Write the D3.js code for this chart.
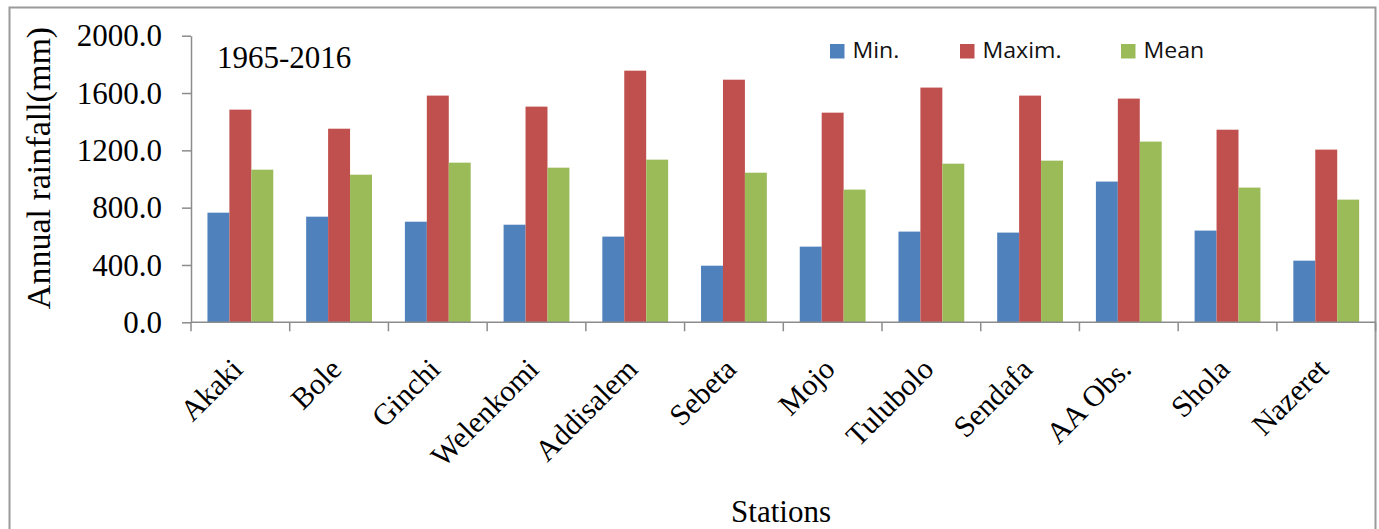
<!DOCTYPE html>
<html>
<head>
<meta charset="utf-8">
<script src="https://cdn.jsdelivr.net/npm/d3@7"></script>
<style>
  html, body { margin: 0; padding: 0; background: #ffffff; }
  svg { display: block; }
</style>
</head>
<body>
<svg id="chart" width="1379" height="529"></svg>
<script>
// Annual rainfall per station, 1965-2016
const stations = ["Akaki", "Bole", "Ginchi", "Welenkomi", "Addisalem", "Sebeta",
                  "Mojo", "Tulubolo", "Sendafa", "AA Obs.", "Shola", "Nazeret"];
const seriesNames = ["Min.", "Maxim.", "Mean"];
const minValues  = [765, 737, 702, 681, 598, 395, 528, 633, 626, 982, 640, 430];
const maxValues  = [1484, 1351, 1582, 1505, 1756, 1693, 1463, 1638, 1582, 1561, 1344, 1205];
const meanValues = [1065, 1030, 1114, 1079, 1135, 1044, 926, 1107, 1128, 1261, 940, 856];
const yTicks = [0, 400, 800, 1200, 1600, 2000];
const colors = ["#4F81BD", "#C0504D", "#9BBB59"];

const seriesValues = [minValues, maxValues, meanValues];
const rows = stations.map((s, i) => ({
  station: s,
  values: seriesNames.map((n, k) => ({ key: n, value: seriesValues[k][i] }))
}));

const svg = d3.select("#chart");
const axisColor = "#8c8c8c";
const serif = "'Liberation Serif', 'Times New Roman', serif";

// outer chart frame
svg.append("rect")
  .attr("x", 9.5).attr("y", 7.5)
  .attr("width", 1366).attr("height", 540)
  .attr("fill", "none").attr("stroke", "#9a9a9a").attr("stroke-width", 2);

const plot = { left: 191, right: 1375.6, top: 35.7, bottom: 322.3 };

const x = d3.scaleBand().domain(stations).range([plot.left, plot.right]).padding(0);
const x1 = d3.scaleBand().domain(seriesNames).range([0, x.bandwidth()])
  .paddingInner(0).paddingOuter(0.75);
const y = d3.scaleLinear().domain([0, 2000]).range([plot.bottom, plot.top]);
const color = d3.scaleOrdinal().domain(seriesNames).range(colors);

// bars
const groups = svg.append("g").selectAll("g").data(rows).join("g")
  .attr("transform", d => `translate(${x(d.station)},0)`);
groups.selectAll("rect").data(d => d.values).join("rect")
  .attr("x", d => x1(d.key))
  .attr("y", d => y(d.value))
  .attr("width", x1.bandwidth())
  .attr("height", d => y(0) - y(d.value))
  .attr("fill", d => color(d.key));

// y axis
const yAxis = svg.append("g")
  .attr("transform", `translate(${plot.left},0)`)
  .call(d3.axisLeft(y).tickValues(yTicks).tickSize(9).tickPadding(20)
    .tickFormat(d3.format(".1f")).tickSizeOuter(0));
yAxis.select(".domain").attr("stroke", axisColor).attr("stroke-width", 1.5);
yAxis.selectAll(".tick line").attr("stroke", axisColor).attr("stroke-width", 1.5);
yAxis.selectAll(".tick text")
  .attr("font-family", serif).attr("font-size", 31).attr("fill", "#000")
  .attr("dy", "0.33em");

// x axis: ticks at category boundaries
const xAxisG = svg.append("g").attr("transform", `translate(0,${plot.bottom})`);
xAxisG.append("line")
  .attr("x1", plot.left).attr("x2", plot.right)
  .attr("stroke", axisColor).attr("stroke-width", 1.5);
xAxisG.selectAll("line.tick").data(stations.concat(["__end"])).join("line")
  .attr("class", "tick")
  .attr("x1", (d, i) => i < stations.length ? x(d) : plot.right)
  .attr("x2", (d, i) => i < stations.length ? x(d) : plot.right)
  .attr("y1", 0).attr("y2", 9)
  .attr("stroke", axisColor).attr("stroke-width", 1.5);

// rotated station labels
svg.append("g").selectAll("text").data(stations).join("text")
  .attr("transform", d => `translate(${x(d) + x.bandwidth() / 2 + 4},371) rotate(-45)`)
  .attr("text-anchor", "end")
  .attr("font-family", serif).attr("font-size", 30).attr("fill", "#000")
  .text(d => d);

// axis titles
svg.append("text")
  .attr("transform", "translate(50,168) rotate(-90)")
  .attr("text-anchor", "middle")
  .attr("font-family", serif).attr("font-size", 34).attr("fill", "#000")
  .text("Annual rainfall(mm)");

svg.append("text")
  .attr("x", 781).attr("y", 522)
  .attr("text-anchor", "middle")
  .attr("font-family", serif).attr("font-size", 31).attr("fill", "#000")
  .text("Stations");

// period label
svg.append("text")
  .attr("x", 217).attr("y", 68)
  .attr("font-family", serif).attr("font-size", 31).attr("fill", "#000")
  .text("1965-2016");

// legend
const legendX = [830, 960, 1121];
const legend = svg.append("g").selectAll("g").data(seriesNames).join("g")
  .attr("transform", (d, i) => `translate(${legendX[i]},44)`);
legend.append("rect")
  .attr("width", 14.5).attr("height", 14.5)
  .attr("fill", d => color(d));
legend.append("text")
  .attr("transform", "translate(22.5,14.3) scale(1.1,1)")
  .attr("font-family", "'Open Sans', 'Noto Sans', sans-serif")
  .attr("font-size", 21).attr("fill", "#111")
  .text(d => d);
</script>
</body>
</html>
